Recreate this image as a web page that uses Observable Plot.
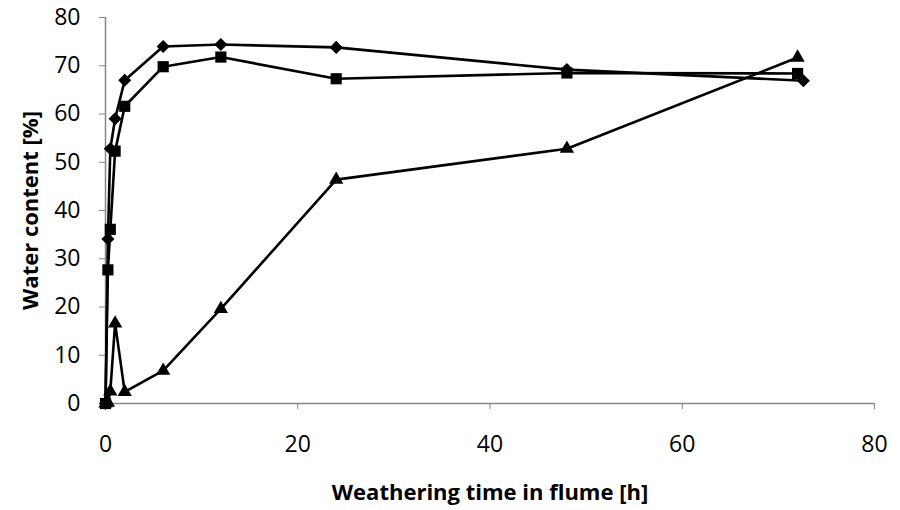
<!DOCTYPE html>
<html>
<head>
<meta charset="utf-8">
<script src="https://cdn.jsdelivr.net/npm/d3@7"></script>
<script src="https://cdn.jsdelivr.net/npm/@observablehq/plot@0.6"></script>
<style>
  html, body { margin: 0; padding: 0; background: #fff; }
  #chart svg { display: block; }
  g[aria-label="x-axis label"] text, g[aria-label="y-axis label"] text { font-weight: bold; font-size: 22px; }
</style>
</head>
<body>
<div id="chart"></div>
<script>
const hours = [0, 0.25, 0.5, 1, 2, 6, 12, 24, 48, 72];
const diamondHours = [0, 0.25, 0.5, 1, 2, 6, 12, 24, 48, 72.6];
const diamondValues = [0, 34.1, 52.8, 59.0, 67.0, 74.0, 74.4, 73.8, 69.2, 66.9];
const squareValues = [0, 27.7, 36.1, 52.3, 61.6, 69.8, 71.8, 67.3, 68.5, 68.4];
const triangleValues = [0, 0.2, 2.5, 16.6, 2.4, 6.8, 19.6, 46.4, 52.8, 71.7];
const xTicks = [0, 20, 40, 60, 80];
const yTicks = [0, 10, 20, 30, 40, 50, 60, 70, 80];
const xLabel = "Weathering time in flume [h]";
const yLabel = "Water content [%]";

const toRows = (xs, ys) => xs.map((x, i) => ({x, y: ys[i]}));
const diamonds = toRows(diamondHours, diamondValues);
const squares = toRows(hours, squareValues);
const triangles = toRows(hours, triangleValues);

const axisColor = "#868686";
const chart = Plot.plot({
  width: 900,
  height: 510,
  marginLeft: 105,
  marginRight: 26,
  marginTop: 17,
  marginBottom: 107,
  style: {fontFamily: "'Open Sans', sans-serif", fontSize: "23px", color: "#000", background: "#fff"},
  x: {domain: [0, 80]},
  y: {domain: [0, 80]},
  marks: [
    Plot.ruleY([0], {stroke: axisColor, strokeWidth: 1.5}),
    Plot.ruleX([0], {stroke: axisColor, strokeWidth: 1.5}),
    Plot.axisX({ticks: xTicks, tickSize: 6, tickPadding: 26, stroke: axisColor, fill: "#000",
      label: xLabel, labelAnchor: "center", labelOffset: 96, labelArrow: "none"}),
    Plot.axisY({ticks: yTicks, tickSize: 6, tickPadding: 19, stroke: axisColor, fill: "#000",
      label: yLabel, labelAnchor: "center", labelOffset: 83, labelArrow: "none"}),
    Plot.line(triangles, {x: "x", y: "y", stroke: "#000", strokeWidth: 2.6}),
    Plot.line(squares, {x: "x", y: "y", stroke: "#000", strokeWidth: 2.6}),
    Plot.line(diamonds, {x: "x", y: "y", stroke: "#000", strokeWidth: 2.6}),
    Plot.dot(triangles, {x: "x", y: "y", symbol: "triangle", r: 5.3, fill: "#000", stroke: "none"}),
    Plot.dot(squares, {x: "x", y: "y", symbol: "square", r: 6.3, fill: "#000", stroke: "none"}),
    Plot.dot(diamonds, {x: "x", y: "y", symbol: "diamond2", r: 5.9, fill: "#000", stroke: "none"})
  ]
});
document.getElementById("chart").appendChild(chart);
</script>
</body>
</html>
